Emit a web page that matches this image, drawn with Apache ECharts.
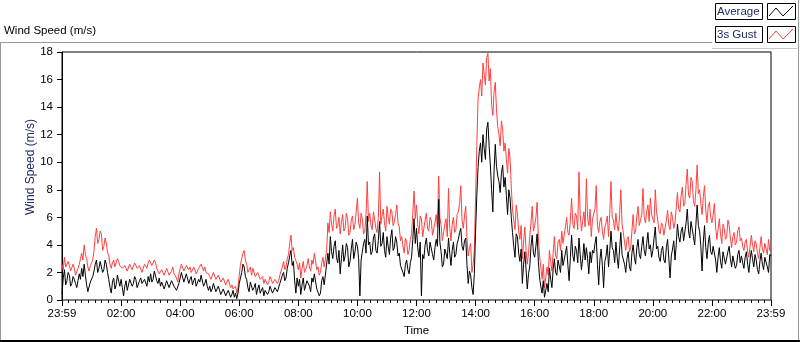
<!DOCTYPE html>
<html>
<head>
<meta charset="utf-8">
<title>Wind Speed</title>
<script src="https://cdn.jsdelivr.net/npm/echarts@6.0.0/dist/echarts.min.js"></script>
<style>
  html, body { margin: 0; padding: 0; background: #fff; }
  #chart { width: 800px; height: 342px; }
</style>
</head>
<body>
<div id="chart"></div>
<script>
// one sample every 2.5 minutes, starting at 23:59 of the previous day
const stepMinutes = 2.5;

const xTickLabels = ['23:59', '02:00', '04:00', '06:00', '08:00', '10:00', '12:00',
                     '14:00', '16:00', '18:00', '20:00', '22:00', '23:59'];

// 3 second gust (m/s), one row per hour
const gustSpeed = [
    2.6, 2.2, 3.1, 2.4, 2.3, 2.8, 2.5, 2.1, 2.0, 2.6, 2.3, 1.8, 1.9, 2.3, 2.6, 3.0, 3.4, 2.9, 4.0, 3.3, 3.0, 2.4, 2.1, 2.5,
    2.4, 2.9, 3.6, 4.6, 5.2, 4.1, 4.4, 5.0, 4.8, 3.6, 3.9, 4.5, 4.1, 3.5, 3.2, 2.6, 2.3, 2.7, 2.9, 2.4, 2.7, 3.0, 2.8, 2.5,
    2.6, 2.3, 2.2, 2.5, 2.4, 2.1, 2.0, 2.6, 2.5, 2.2, 2.3, 2.7, 2.6, 2.3, 2.2, 2.5, 2.4, 2.0, 2.1, 2.6, 2.5, 2.3, 2.7, 2.9,
    2.8, 2.5, 2.6, 2.9, 2.7, 2.3, 2.2, 1.9, 1.8, 2.2, 2.3, 1.8, 1.9, 2.3, 2.2, 1.8, 1.7, 2.1, 2.4, 1.9, 2.0, 1.6, 1.3, 1.9,
    2.3, 2.6, 2.5, 2.1, 2.2, 2.5, 2.6, 2.2, 2.4, 2.0, 2.1, 2.4, 2.3, 1.9, 2.0, 2.3, 2.2, 2.6, 2.5, 2.1, 2.4, 2.0, 2.1, 1.9,
    1.8, 1.5, 1.6, 2.0, 1.9, 1.5, 1.4, 1.8, 1.7, 1.3, 1.2, 1.6, 1.5, 1.1, 1.0, 1.5, 1.4, 0.9, 1.1, 0.8, 0.7, 1.0, 0.5, 0.9,
    1.8, 2.6, 3.0, 3.4, 3.6, 2.9, 2.6, 2.0, 2.1, 2.4, 1.8, 2.3, 2.2, 1.7, 1.6, 2.0, 1.9, 1.5, 1.4, 1.7, 1.2, 1.5, 1.6, 1.1,
    1.3, 1.7, 1.5, 1.2, 1.1, 1.5, 1.6, 1.2, 1.4, 1.8, 1.9, 2.4, 2.8, 2.2, 2.4, 3.0, 3.3, 4.1, 4.7, 3.6, 3.8, 3.1, 3.2, 2.6,
    2.2, 2.7, 1.6, 2.3, 2.8, 2.0, 1.9, 2.5, 3.0, 2.4, 2.1, 2.9, 2.6, 3.4, 3.3, 2.2, 2.4, 1.8, 2.0, 2.7, 3.1, 2.4, 2.5, 3.6,
    5.6, 4.9, 6.4, 5.5, 5.0, 6.1, 6.6, 5.2, 5.4, 6.0, 4.8, 5.6, 6.2, 5.0, 5.2, 6.3, 5.9, 4.7, 4.9, 5.8, 6.1, 5.1, 5.5, 6.4,
    7.4, 5.6, 5.2, 6.3, 5.9, 4.8, 5.0, 6.2, 8.6, 5.7, 6.3, 5.4, 5.1, 6.4, 5.8, 5.2, 4.9, 6.0, 9.3, 5.5, 6.1, 6.6, 5.6, 5.0,
    6.8, 6.0, 5.5, 6.6, 6.4, 5.4, 5.7, 6.2, 6.9, 5.6, 5.3, 4.3, 4.6, 3.9, 3.4, 4.5, 4.2, 3.3, 3.6, 4.4, 4.8, 6.3, 7.9, 5.9,
    6.9, 5.5, 4.8, 6.1, 5.9, 4.6, 4.7, 5.8, 6.3, 5.2, 5.0, 6.0, 5.8, 4.7, 4.6, 5.6, 6.2, 5.3, 9.0, 6.0, 5.4, 4.3, 4.4, 5.5,
    5.9, 4.6, 8.1, 5.2, 4.3, 5.5, 6.0, 4.9, 5.1, 6.2, 6.4, 7.0, 8.3, 5.8, 5.2, 6.1, 6.8, 4.5, 3.2, 3.8, 4.1, 2.0, 2.6, 3.6,
    7.4, 11.2, 14.6, 15.4, 16.0, 14.8, 17.2, 16.4, 15.6, 17.6, 17.9, 15.9, 16.8, 14.2, 13.4, 15.1, 15.8, 13.8, 12.6, 12.0, 11.2, 13.0, 12.4, 10.8,
    11.4, 10.2, 9.2, 11.0, 10.3, 8.2, 6.6, 5.8, 5.1, 6.9, 6.2, 5.0, 4.4, 5.4, 3.0, 4.2, 5.3, 3.6, 2.6, 3.4, 4.6, 5.6, 6.8, 5.0,
    5.4, 6.0, 7.1, 4.5, 3.2, 2.4, 1.5, 2.6, 0.9, 1.6, 2.4, 1.8, 3.6, 2.8, 2.1, 3.4, 4.6, 3.2, 3.0, 4.2, 4.4, 3.6, 5.0, 4.1,
    4.2, 5.3, 6.0, 4.9, 4.7, 5.8, 7.4, 5.5, 5.2, 6.3, 6.1, 5.1, 9.3, 6.2, 5.0, 5.7, 6.4, 5.3, 8.8, 6.0, 5.4, 6.6, 4.6, 5.9,
    5.8, 6.6, 8.3, 5.4, 4.9, 5.7, 6.0, 5.0, 4.4, 5.3, 5.6, 6.1, 4.6, 6.3, 8.6, 6.0, 5.8, 5.1, 6.3, 5.4, 5.0, 6.2, 8.0, 5.5,
    4.9, 4.2, 3.6, 4.4, 4.6, 3.5, 3.8, 5.0, 6.2, 4.8, 5.0, 6.1, 6.8, 5.4, 5.3, 6.2, 8.1, 6.0, 5.6, 6.4, 6.9, 5.7, 7.4, 6.2,
    6.3, 5.6, 8.0, 6.4, 5.8, 5.0, 4.8, 5.6, 5.4, 4.7, 4.6, 5.8, 6.5, 5.4, 5.1, 6.4, 6.0, 5.2, 5.6, 6.7, 7.8, 6.6, 6.4, 7.6,
    8.2, 6.8, 7.0, 8.4, 9.5, 7.6, 7.4, 8.9, 8.6, 7.2, 6.8, 8.0, 9.8, 7.7, 8.0, 7.0, 6.2, 7.5, 8.3, 6.5, 5.6, 6.8, 7.1, 6.0,
    5.6, 6.2, 7.0, 5.3, 4.4, 5.1, 5.9, 4.8, 4.1, 5.5, 5.2, 4.4, 4.6, 5.8, 5.4, 4.5, 3.8, 4.6, 4.9, 4.0, 4.2, 5.0, 5.3, 4.3,
    4.5, 3.9, 3.6, 4.2, 4.4, 3.5, 3.1, 3.9, 4.7, 4.0, 3.5, 4.3, 4.1, 3.4, 3.0, 3.8, 4.6, 3.7, 3.4, 4.1, 4.2, 3.3, 4.4, 3.6,
    3.8
];

// average wind speed (m/s)
const avgSpeed = [
    0.4, 1.6, 2.2, 1.1, 1.4, 2.0, 1.8, 1.0, 1.2, 1.7, 1.5, 1.2, 0.9, 1.4, 1.9, 1.5, 2.3, 1.7, 2.6, 1.8, 1.1, 0.6, 0.7, 1.3,
    1.2, 1.7, 2.1, 2.6, 2.9, 2.0, 2.3, 2.8, 2.7, 2.0, 2.2, 2.9, 2.6, 2.0, 1.5, 0.9, 0.5, 1.3, 1.6, 0.8, 1.1, 1.8, 1.7, 1.0,
    1.5, 0.9, 0.3, 1.0, 1.4, 0.7, 0.8, 1.5, 1.6, 1.0, 1.2, 1.7, 1.5, 0.9, 1.0, 1.4, 1.6, 1.2, 1.1, 1.5, 1.4, 1.0, 1.7, 1.3,
    1.9, 1.3, 1.5, 2.1, 2.0, 1.4, 1.2, 1.6, 1.0, 1.3, 1.4, 0.8, 0.9, 1.4, 1.3, 0.9, 1.0, 1.4, 1.5, 1.0, 1.1, 0.7, 0.8, 1.2,
    1.6, 2.0, 1.9, 1.3, 1.4, 1.9, 1.8, 1.2, 1.5, 1.7, 1.1, 1.4, 1.6, 1.0, 0.9, 1.5, 1.3, 1.8, 1.7, 1.0, 1.2, 1.5, 1.0, 0.7,
    1.0, 0.6, 0.8, 1.2, 1.1, 0.6, 0.5, 1.0, 0.9, 0.4, 0.3, 0.8, 0.7, 0.3, 0.2, 0.7, 0.6, 0.2, 0.4, 0.7, 0.2, 0.5, 0.1, 0.5,
    1.2, 1.6, 2.0, 2.6, 2.4, 1.7, 1.5, 0.9, 0.6, 1.3, 1.2, 0.7, 0.9, 1.2, 0.4, 0.8, 1.1, 0.5, 0.6, 0.9, 0.3, 0.7, 0.8, 0.4,
    0.6, 1.0, 0.9, 0.5, 0.4, 0.9, 1.0, 0.6, 0.7, 1.2, 1.3, 1.8, 2.0, 1.4, 1.6, 2.3, 2.7, 3.2, 3.6, 2.5, 2.8, 1.4, 0.5, 1.6,
    1.0, 1.5, 0.4, 1.1, 1.6, 0.7, 0.8, 1.4, 1.5, 1.0, 0.6, 1.6, 1.3, 1.9, 1.8, 0.8, 0.9, 0.3, 0.5, 1.4, 1.7, 1.1, 1.2, 2.6,
    3.4, 2.6, 4.6, 3.5, 3.0, 3.9, 4.3, 3.1, 2.7, 3.6, 1.9, 3.0, 4.0, 2.8, 3.2, 4.1, 3.8, 2.4, 2.8, 3.7, 4.4, 3.0, 3.5, 4.2,
    3.9, 3.0, 0.3, 2.9, 3.5, 4.1, 4.4, 3.4, 6.1, 4.0, 4.2, 3.3, 3.5, 4.5, 4.8, 3.6, 3.4, 4.3, 5.7, 3.9, 4.1, 4.9, 3.6, 3.1,
    4.6, 3.9, 3.3, 4.5, 5.1, 3.6, 3.8, 4.6, 4.2, 3.2, 3.4, 2.5, 2.6, 2.0, 1.7, 2.6, 2.9, 2.2, 1.9, 2.7, 3.1, 4.4, 5.9, 4.1,
    5.2, 3.8, 3.1, 4.2, 0.3, 3.3, 3.0, 4.0, 4.5, 3.6, 3.2, 4.2, 4.1, 3.3, 2.9, 3.8, 4.4, 3.9, 7.3, 4.2, 3.5, 2.4, 2.6, 3.7,
    3.8, 3.0, 4.5, 3.4, 2.5, 3.6, 4.2, 3.1, 3.3, 4.1, 4.4, 4.9, 5.2, 3.9, 3.6, 4.3, 4.5, 2.6, 1.2, 2.1, 1.8, 0.9, 0.4, 1.9,
    5.0, 7.6, 9.6, 10.8, 11.4, 10.0, 12.0, 11.0, 10.2, 12.4, 12.9, 11.2, 9.8, 8.0, 6.4, 9.4, 11.3, 9.7, 9.0, 8.6, 7.8, 9.2, 9.8, 8.2,
    8.9, 7.6, 6.2, 8.0, 7.4, 6.0, 4.9, 3.9, 3.1, 4.8, 4.6, 3.4, 2.8, 3.7, 1.2, 2.6, 3.5, 2.2, 0.8, 1.9, 2.4, 3.9, 4.7, 3.4,
    3.1, 3.9, 4.8, 2.8, 1.6, 1.0, 0.5, 1.4, 0.2, 0.7, 1.2, 0.6, 2.3, 1.5, 0.9, 2.2, 3.0, 2.0, 1.8, 2.9, 2.8, 2.0, 3.6, 2.5,
    2.6, 3.4, 3.9, 2.5, 1.4, 3.1, 4.7, 3.2, 2.8, 3.9, 3.6, 2.7, 4.5, 3.3, 2.2, 3.0, 4.1, 2.9, 3.8, 3.0, 1.9, 3.5, 2.7, 3.6,
    3.4, 4.1, 4.6, 2.6, 1.1, 2.9, 3.7, 2.5, 0.9, 2.8, 3.2, 4.0, 2.4, 3.6, 5.0, 3.8, 3.6, 2.7, 4.2, 3.1, 2.3, 3.7, 4.9, 3.3,
    3.2, 2.6, 2.0, 3.0, 3.5, 2.4, 2.1, 3.4, 4.0, 3.1, 2.6, 3.8, 4.4, 3.3, 3.0, 3.9, 4.6, 3.6, 3.2, 4.1, 4.9, 3.7, 4.0, 3.1,
    3.6, 4.5, 5.3, 3.7, 3.9, 3.1, 2.8, 3.6, 3.9, 2.9, 2.7, 3.8, 4.4, 3.0, 1.6, 3.2, 3.7, 4.3, 2.9, 4.0, 5.5, 4.6, 4.2, 5.0,
    5.3, 4.3, 4.4, 5.6, 6.6, 5.0, 4.5, 5.7, 5.8, 4.6, 4.0, 5.5, 6.9, 5.4, 5.0, 3.9, 2.1, 4.2, 5.4, 3.8, 3.0, 4.1, 4.7, 3.5,
    3.3, 3.9, 4.0, 2.9, 2.0, 3.1, 3.8, 2.8, 2.3, 3.5, 3.4, 2.6, 2.6, 3.5, 3.9, 3.0, 2.4, 3.2, 3.1, 2.3, 2.5, 3.3, 3.6, 2.7,
    3.2, 2.7, 2.3, 3.1, 3.5, 2.6, 2.0, 2.9, 3.6, 3.0, 2.4, 3.3, 2.9, 2.2, 1.9, 2.8, 3.4, 2.6, 2.2, 3.1, 3.0, 2.4, 2.0, 3.3,
    3.2
];

const FONT = '"Liberation Sans", Arial, sans-serif';
const NAVY = '#1f2a66';

function toPairs(values) {
    return values.map((v, i) => [i * stepMinutes, v]);
}

const chart = echarts.init(document.getElementById('chart'), null, { renderer: 'canvas' });

const option = {
    animation: false,
    backgroundColor: '#fff',
    textStyle: { fontFamily: FONT },
    grid: {
        left: 62, top: 52, width: 709, height: 250,
        show: true, borderColor: '#000', borderWidth: 1, backgroundColor: '#fff'
    },
    xAxis: {
        type: 'value',
        min: 0,
        max: 1440,
        interval: 120,
        name: 'Time',
        nameLocation: 'middle',
        nameGap: 25,
        nameTextStyle: { color: '#000', fontSize: 11.5, fontFamily: FONT },
        axisLine: { show: true, onZero: false, lineStyle: { color: '#808080', width: 1 } },
        axisTick: { show: true, length: 6, lineStyle: { color: '#000' } },
        minorTick: { show: true, splitNumber: 9, length: 3, lineStyle: { color: '#000' } },
        splitLine: { show: false },
        minorSplitLine: { show: false },
        axisLabel: {
            color: '#000', fontSize: 11.5, fontFamily: FONT, margin: 8,
            showMinLabel: true, showMaxLabel: true,
            formatter: function (v) { return xTickLabels[Math.round(v / 120)] || ''; }
        }
    },
    yAxis: [
        {
            type: 'value',
            min: 0,
            max: 18,
            interval: 2,
            position: 'left',
            axisLine: { show: true, lineStyle: { color: '#000', width: 1 } },
            axisTick: { show: true, length: 5, lineStyle: { color: '#000' } },
            splitLine: { show: false },
            axisLabel: { color: '#000', fontSize: 11.5, fontFamily: FONT, margin: 9 }
        },
        {
            type: 'value',
            min: 0,
            max: 18,
            position: 'right',
            axisLine: { show: true, lineStyle: { color: '#808080', width: 1 } },
            axisTick: { show: false },
            axisLabel: { show: false },
            splitLine: { show: false }
        }
    ],
    series: [
        {
            name: '3s Gust',
            type: 'line',
            data: toPairs(gustSpeed),
            showSymbol: false,
            silent: true,
            sampling: null,
            lineStyle: { color: '#ff4040', width: 1 }
        },
        {
            name: 'Average',
            type: 'line',
            data: toPairs(avgSpeed),
            showSymbol: false,
            silent: true,
            sampling: null,
            lineStyle: { color: '#000', width: 1 }
        }
    ],
    graphic: [
        // panel frame
        { type: 'line', silent: true, shape: { x1: 0, y1: 42.5, x2: 712, y2: 42.5 }, style: { stroke: '#999', lineWidth: 1 } },
        { type: 'line', silent: true, shape: { x1: 0.5, y1: 42, x2: 0.5, y2: 342 }, style: { stroke: '#999', lineWidth: 1 } },
        { type: 'line', silent: true, shape: { x1: 798.5, y1: 0, x2: 798.5, y2: 342 }, style: { stroke: '#999', lineWidth: 1 } },
        { type: 'line', silent: true, shape: { x1: 712, y1: 48.5, x2: 799, y2: 48.5 }, style: { stroke: '#c8c8c8', lineWidth: 1 } },
        { type: 'line', silent: true, shape: { x1: 0, y1: 341, x2: 800, y2: 341 }, style: { stroke: '#000', lineWidth: 2 } },
        // chart title
        { type: 'text', silent: true, x: 4, y: 31, style: { text: 'Wind Speed (m/s)', font: '11.5px ' + FONT, fill: '#000', verticalAlign: 'middle' } },
        // y axis name
        { type: 'text', silent: true, x: 31, y: 167, rotation: Math.PI / 2,
          style: { text: 'Wind Speed (m/s)', font: '12px ' + FONT, fill: NAVY, align: 'center', verticalAlign: 'middle' } },
        // legend
        { type: 'rect', silent: true, shape: { x: 715.5, y: 3.5, width: 47, height: 16 }, style: { fill: '#fff', stroke: '#000', lineWidth: 1 } },
        { type: 'rect', silent: true, shape: { x: 767.5, y: 3.5, width: 28, height: 16 }, style: { fill: '#fff', stroke: '#000', lineWidth: 1 } },
        { type: 'rect', silent: true, shape: { x: 715.5, y: 26.5, width: 47, height: 16 }, style: { fill: '#fff', stroke: '#000', lineWidth: 1 } },
        { type: 'rect', silent: true, shape: { x: 767.5, y: 26.5, width: 28, height: 16 }, style: { fill: '#fff', stroke: '#000', lineWidth: 1 } },
        { type: 'text', silent: true, x: 717, y: 12, style: { text: 'Average', font: '11.5px ' + FONT, fill: NAVY, verticalAlign: 'middle' } },
        { type: 'text', silent: true, x: 717, y: 35, style: { text: '3s Gust', font: '11.5px ' + FONT, fill: NAVY, verticalAlign: 'middle' } },
        { type: 'polyline', silent: true, shape: { points: [[769, 16], [776, 8], [783, 16], [793, 6]] }, style: { stroke: '#000', fill: null, lineWidth: 1 } },
        { type: 'polyline', silent: true, shape: { points: [[769, 39], [776, 31], [783, 39], [793, 29]] }, style: { stroke: '#ff4040', fill: null, lineWidth: 1 } }
    ]
};

chart.setOption(option);
</script>
</body>
</html>
